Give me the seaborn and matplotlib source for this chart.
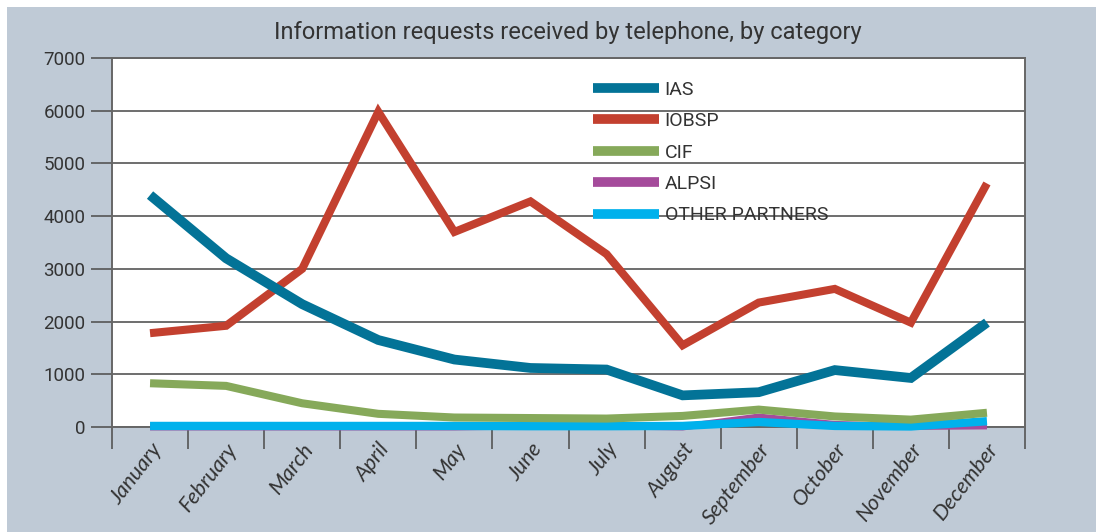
import matplotlib
matplotlib.use("Agg")
import matplotlib.pyplot as plt
import seaborn as sns
import pandas as pd
from matplotlib.lines import Line2D
from matplotlib.patches import Rectangle

months = ["January", "February", "March", "April", "May", "June", "July",
          "August", "September", "October", "November", "December"]
ias = [4400, 3200, 2330, 1650, 1280, 1120, 1090, 600, 660, 1080, 930, 1980]
iobsp = [1780, 1920, 3000, 5980, 3700, 4280, 3280, 1550, 2360, 2620, 1980, 4620]
cif = [830, 780, 450, 250, 180, 170, 160, 210, 330, 200, 140, 270]
alpsi = [0, 0, 0, 0, 0, 20, 20, 0, 190, 50, 10, 20]
other = [20, 20, 20, 20, 20, 15, 15, 20, 95, 20, 10, 110]
series_names = ["IAS", "IOBSP", "CIF", "ALPSI", "OTHER PARTNERS"]
yticks = [0, 1000, 2000, 3000, 4000, 5000, 6000, 7000]

colors = {"IAS": "#037397", "IOBSP": "#c3402f", "CIF": "#86a95a",
          "ALPSI": "#a54b9b", "OTHER PARTNERS": "#00b1ec"}
widths = {"IAS": 7.0, "IOBSP": 5.8, "CIF": 5.8, "ALPSI": 5.0, "OTHER PARTNERS": 6.0}

rows = []
vals = {"IAS": ias, "IOBSP": iobsp, "CIF": cif, "ALPSI": alpsi, "OTHER PARTNERS": other}
for name in series_names:
    for i, m in enumerate(months):
        rows.append({"pos": i, "month": m, "value": vals[name][i], "series": name})
df = pd.DataFrame(rows)

sns.set_theme(style="white")
font = ["Roboto", "DejaVu Sans"]
plt.rcParams["font.family"] = font

fig = plt.figure(figsize=(10.96, 5.32), dpi=100)
fig.patch.set_facecolor("white")
fig.patches.append(Rectangle((7 / 1096, 0), 1 - 7 / 1096, 1 - 7 / 532,
                             transform=fig.transFigure, facecolor="#bfcad6",
                             edgecolor="none", zorder=-10))
ax = fig.add_axes([112 / 1096, 1 - 427 / 532, (1025 - 112) / 1096, (427 - 58) / 532])
ax.set_facecolor("white")

draw_order = ["ALPSI", "OTHER PARTNERS", "CIF", "IOBSP", "IAS"]
for z, name in enumerate(draw_order):
    sub = df[df["series"] == name]
    sns.lineplot(data=sub, x="pos", y="value", color=colors[name],
                 linewidth=widths[name], ax=ax, legend=False, zorder=3 + z,
                 solid_joinstyle="miter", solid_capstyle="butt", clip_on=False)

ax.set_xlim(-0.5, 11.5)
ax.set_ylim(0, 7000)
ax.set_yticks(yticks)
ax.set_yticklabels([str(v) for v in yticks])
ax.set_xticks(range(12))
ax.set_xticklabels(months, rotation=52, ha="right", va="top",
                   rotation_mode="anchor", fontstyle="italic",
                   family=["Lato", "DejaVu Sans"])
ax.set_xticks([i - 0.5 for i in range(13)], minor=True)
ax.tick_params(axis="x", which="major", length=0, pad=9, labelsize=15.5,
               labelcolor="#333333")
ax.tick_params(axis="x", which="minor", length=16, width=1.2, color="#555555",
               direction="out", bottom=True)
ax.tick_params(axis="y", length=15, width=1.2, color="#555555", direction="out",
               left=True, labelsize=13.5, labelcolor="#333333", pad=4)
ax.grid(axis="y", color="#555555", linewidth=1.2, zorder=1)
ax.set_axisbelow(True)
for s in ax.spines.values():
    s.set_color("#666666")
    s.set_linewidth(1.4)
    s.set_visible(True)
ax.set_xlabel("")
ax.set_ylabel("")

handles = [Line2D([0], [0], color=colors[n], lw=7, solid_capstyle="butt")
           for n in series_names]
leg = ax.legend(handles, series_names, loc="upper left",
                bbox_to_anchor=((593 - 112) / 913 - 0.009, 1 - (73 - 58) / 369),
                frameon=False, handlelength=3.4, handletextpad=0.3,
                labelspacing=0.69, fontsize=14, borderaxespad=0)
for t in leg.get_texts():
    t.set_color("#333333")
leg.set_zorder(2)

fig.text(568 / 1096, 1 - 32 / 532, "Information requests received by telephone, by category",
         ha="center", va="center", fontsize=17, color="#333333")

fig.savefig("out.png", dpi=100, facecolor=fig.get_facecolor())
